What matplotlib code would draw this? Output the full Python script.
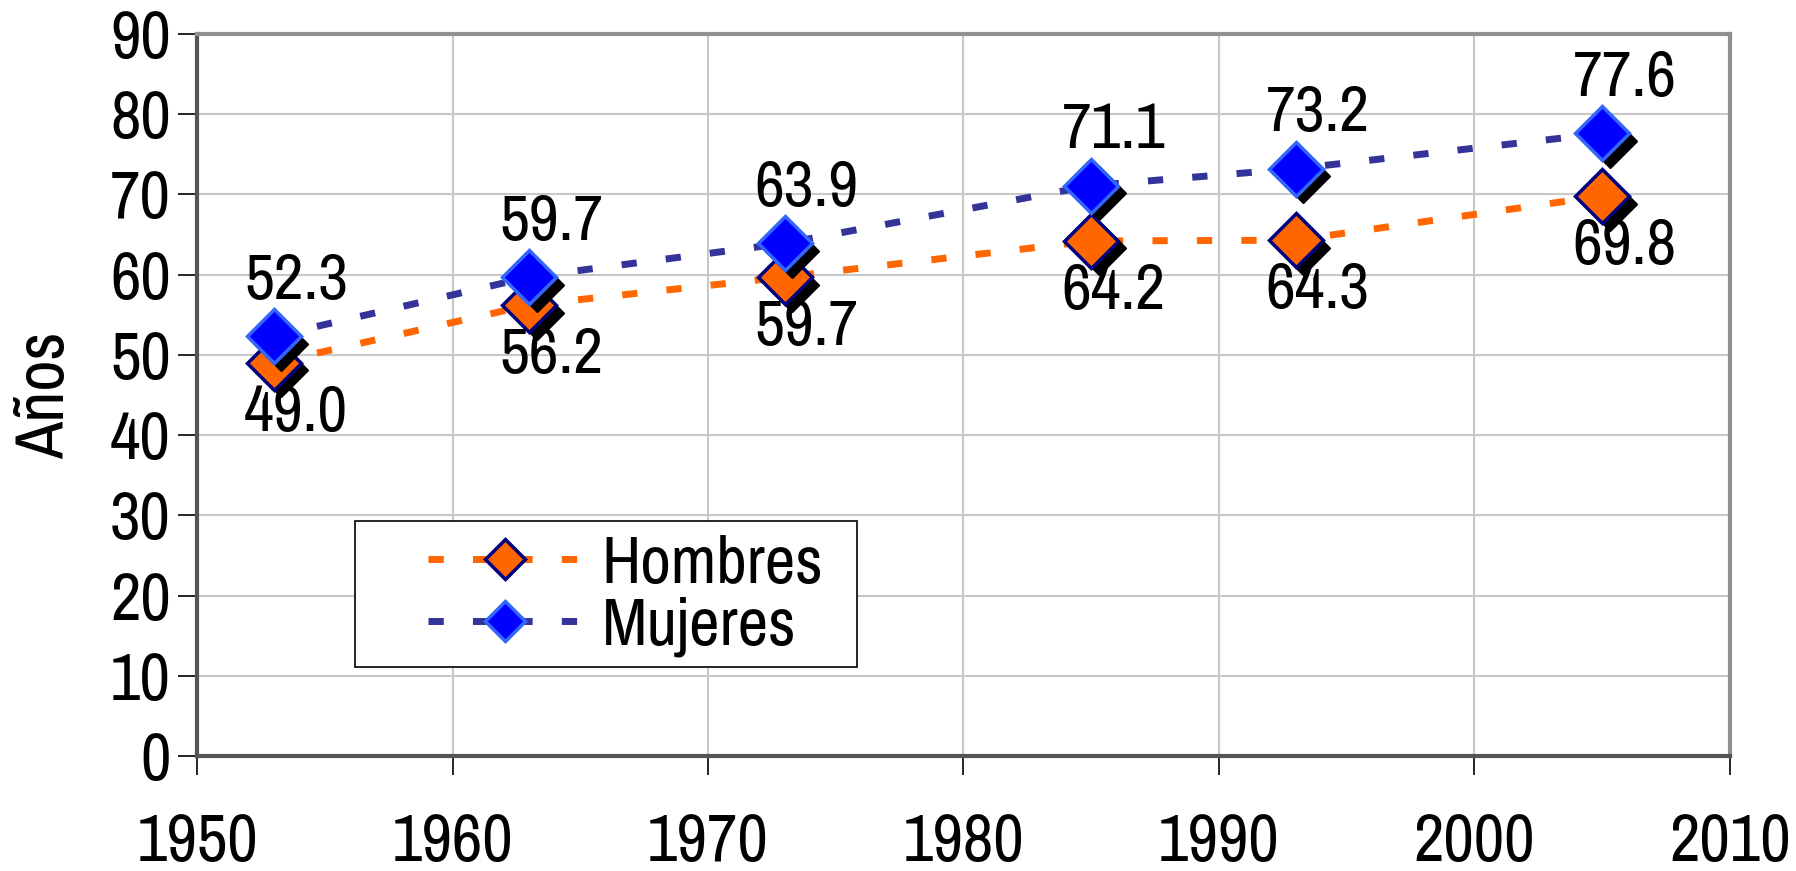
import matplotlib
matplotlib.use("Agg")
import matplotlib.pyplot as plt
import matplotlib.transforms as mtransforms
from matplotlib import font_manager
from matplotlib.font_manager import FontProperties
from matplotlib.patches import Rectangle

# datos
anios = [1953, 1963, 1973, 1985, 1993, 2005]
hombres = [49.0, 56.2, 59.7, 64.2, 64.3, 69.8]
mujeres = [52.3, 59.7, 63.9, 71.1, 73.2, 77.6]
series_names = ["Hombres", "Mujeres"]
x_ticks = [1950, 1960, 1970, 1980, 1990, 2000, 2010]
y_ticks = [0, 10, 20, 30, 40, 50, 60, 70, 80, 90]


def narrow_font():
    """busca una fuente tipo Arial Narrow"""
    fl = font_manager.fontManager.ttflist
    regular = [f for f in fl if f.style == "normal" and f.weight in (400, "normal", "regular")]
    for f in regular:
        if f.name == "Liberation Sans" and f.stretch == "condensed":
            return f.fname
    for name in ["Liberation Sans Narrow", "Arial Narrow", "Archivo Narrow", "Roboto Condensed"]:
        for f in regular:
            if f.name == name:
                return f.fname
    return None


path = narrow_font()


def fp(size):
    if path:
        return FontProperties(fname=path, size=size)
    return FontProperties(family="DejaVu Sans", size=size * 0.8)


fig = plt.figure(figsize=(17.96, 8.71), dpi=100)
ax = fig.add_axes([0.1097, 0.132, 0.8535, 0.829])

shadow = ax.transData + mtransforms.ScaledTranslation(0.075, -0.075, fig.dpi_scale_trans)

styles = [
    dict(color="#FF6600", mfc="#FF6600", mec="#000080"),
    dict(color="#333399", mfc="#0000FF", mec="#3366FF"),
]

handles = []
for i, (vals, st) in enumerate(zip([hombres, mujeres], styles)):
    z = 3 + 2 * i
    ax.plot(anios, vals, color=st["color"], lw=5, dashes=(2.2, 4.2), zorder=2)
    ax.plot(anios, vals, ls="none", marker="D", ms=28, mfc="black", mec="black",
            transform=shadow, zorder=z)
    ax.plot(anios, vals, ls="none", marker="D", ms=28, mfc=st["mfc"],
            mec=st["mec"], mew=2.5, zorder=z + 1)
    # para la leyenda
    hl, = ax.plot([], [], color=st["color"], lw=5, dashes=(2.2, 4.2), marker="D",
                  ms=20, mfc=st["mfc"], mec=st["mec"], mew=2.5)
    handles.append(hl)

# etiquetas de datos
for x, v in zip(anios, mujeres):
    ax.annotate(f"{v:.1f}", (x, v), xytext=(16, 40), textcoords="offset points",
                ha="center", va="center", fontproperties=fp(47), zorder=10)
for x, v in zip(anios, hombres):
    ax.annotate(f"{v:.1f}", (x, v), xytext=(16, -36), textcoords="offset points",
                ha="center", va="center", fontproperties=fp(47), zorder=10)

ax.set_xlim(1950, 2010)
ax.set_ylim(0, 90)
ax.set_xticks(x_ticks)
ax.set_yticks(y_ticks)
ax.set_xticklabels([str(t) for t in x_ticks])
ax.set_yticklabels([str(t) for t in y_ticks])
for lbl in ax.get_xticklabels() + ax.get_yticklabels():
    lbl.set_fontproperties(fp(48))
ax.tick_params(axis="x", length=14, width=1.2, pad=27, color="black")
ax.tick_params(axis="y", length=14, width=1.2, pad=5, color="black")
ax.set_ylabel("Años", fontproperties=fp(49), labelpad=24)

ax.grid(True, color="#C8C8C8", lw=1.5)
ax.set_axisbelow(True)
for side in ["top", "right"]:
    ax.spines[side].set_color("#909090")
    ax.spines[side].set_linewidth(3)
for side in ["left", "bottom"]:
    ax.spines[side].set_color("#555555")
    ax.spines[side].set_linewidth(3)

# leyenda
ax.add_patch(Rectangle((0.103, 0.123), 0.3275, 0.202, transform=ax.transAxes,
                       fill=True, fc="white", ec="black", lw=1.2, zorder=8))
leg = ax.legend(handles, series_names, loc="center left",
                bbox_to_anchor=(0.129, 0.222), frameon=False, borderpad=0,
                handlelength=2.3, handletextpad=0.3, labelspacing=0.02,
                prop=fp(48))
leg.set_zorder(9)

fig.savefig("out.png", dpi=100)
